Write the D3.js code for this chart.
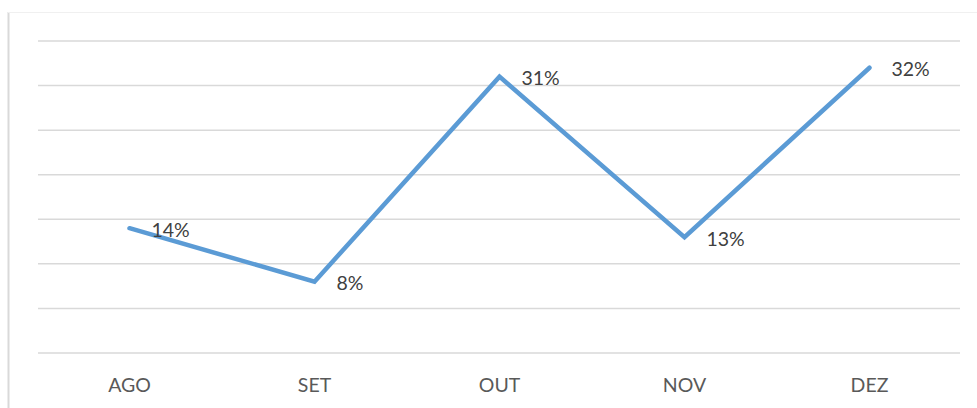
<!DOCTYPE html>
<html><head><meta charset="utf-8">
<script src="https://cdn.jsdelivr.net/npm/d3@7"></script>
<style>body{margin:0;background:#fff}svg{display:block}</style>
</head><body>
<svg id="c" width="977" height="408"></svg>
<script>
const categories = ["AGO","SET","OUT","NOV","DEZ"];
const values = [14, 8, 31, 13, 32];
const labels = ["14%","8%","31%","13%","32%"];
const yTicks = [0,5,10,15,20,25,30,35];

const svg = d3.select("#c");
const W = 977, H = 408;
const m = {left: 37, right: 15, top: 41, bottom: 55};
const x = d3.scaleBand().domain(categories).range([m.left, W - m.right]);
const y = d3.scaleLinear().domain([0, 35]).range([H - m.bottom, m.top]);
const FONT = "Lato, Open Sans, sans-serif";

// frame
svg.append("line").attr("x1", 8.5).attr("x2", 8.5).attr("y1", 12).attr("y2", H)
  .attr("stroke", "#d9d9d9").attr("stroke-width", 2);
svg.append("line").attr("x1", 8).attr("x2", W).attr("y1", 12.5).attr("y2", 12.5)
  .attr("stroke", "#f0f0f0").attr("stroke-width", 1);

// gridlines
svg.append("g").selectAll("line").data(yTicks).join("line")
  .attr("x1", m.left + 1).attr("x2", W - m.right - 2)
  .attr("y1", d => y(d)).attr("y2", d => y(d))
  .attr("stroke", "#d9d9d9").attr("stroke-width", 1.5);

// x axis labels
const xAxis = d3.axisBottom(x).tickSize(0).tickPadding(0);
const gx = svg.append("g").attr("transform", `translate(0,${H - m.bottom + 39})`).call(xAxis);
gx.select(".domain").remove();
gx.selectAll("text").attr("font-family", FONT)
  .attr("font-size", 19.5).attr("fill", "#595959").attr("dy", 0);

const cx = d => x(d) + x.bandwidth() / 2;
const pts = categories.map((c, i) => [cx(c), y(values[i])]);

svg.append("path").datum(pts)
  .attr("d", d3.line())
  .attr("fill", "none").attr("stroke", "#5b9bd5").attr("stroke-width", 4.5)
  .attr("stroke-linejoin", "miter").attr("stroke-linecap", "round");

svg.append("g").selectAll("text").data(categories).join("text")
  .attr("x", (c) => cx(c) + 22)
  .attr("y", (c, i) => y(values[i]) + 8.5)
  .attr("font-family", FONT)
  .attr("font-size", 19.5).attr("fill", "#404040")
  .text((c, i) => labels[i]);
</script>
</body></html>
